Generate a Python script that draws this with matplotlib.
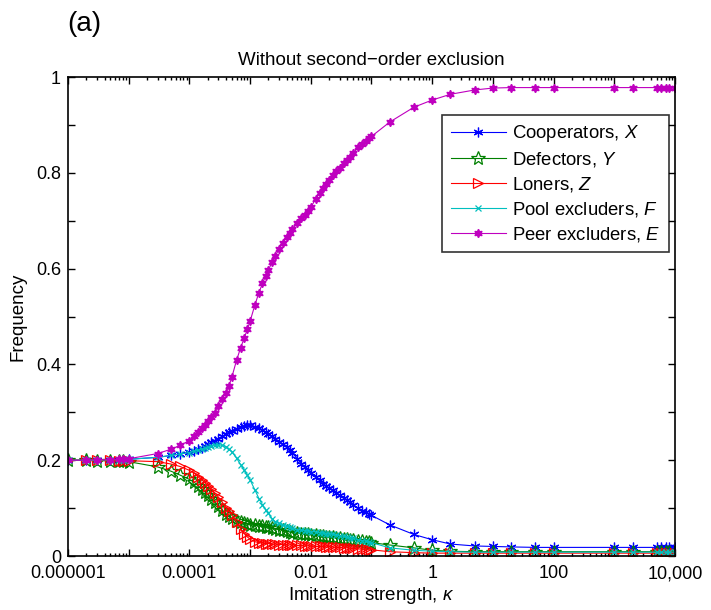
import numpy as np
import matplotlib
matplotlib.use("Agg")
import matplotlib.pyplot as plt
from matplotlib.ticker import LogLocator, NullFormatter, FixedLocator, FixedFormatter

plt.rcParams['font.family'] = ['Liberation Sans', 'DejaVu Sans']
plt.rcParams['mathtext.fontset'] = 'custom'
plt.rcParams['mathtext.rm'] = 'Liberation Sans'
plt.rcParams['mathtext.it'] = 'Liberation Sans:italic'

# imitation strength values used in the sweep
kappa = [1e-6, 2e-6, 3e-6, 5e-6, 7e-6, 8e-6, 1e-5, 3e-5, 5e-5, 7e-5,
         1e-4, 1.2e-4, 1.4e-4, 1.6e-4, 1.8e-4, 2e-4, 2.3e-4, 2.6e-4, 3e-4, 3.5e-4,
         4e-4, 4.5e-4, 5e-4, 6e-4, 7e-4, 8e-4, 9e-4,
         1e-3, 1.2e-3, 1.4e-3, 1.6e-3, 1.8e-3, 2e-3, 2.3e-3, 2.6e-3, 3e-3, 3.5e-3,
         4e-3, 4.5e-3, 5e-3, 6e-3, 7e-3, 8e-3, 9e-3,
         1e-2, 1.2e-2, 1.4e-2, 1.6e-2, 1.8e-2, 2e-2, 2.3e-2, 2.6e-2, 3e-2, 3.5e-2,
         4e-2, 4.5e-2, 5e-2, 6e-2, 7e-2, 8e-2, 9e-2,
         0.1, 0.2, 0.5, 1, 2, 5, 10, 20, 50, 100, 1000, 2000, 5000, 6000, 7000, 8000, 10000]

cooperators = [0.200, 0.200, 0.200, 0.201, 0.201, 0.201, 0.202, 0.206, 0.210, 0.213,
               0.217, 0.220, 0.223, 0.226, 0.229, 0.233, 0.237, 0.241, 0.245, 0.250,
               0.255, 0.259, 0.262, 0.266, 0.270, 0.272, 0.273,
               0.273, 0.270, 0.267, 0.263, 0.259, 0.255, 0.250, 0.245, 0.239, 0.233,
               0.227, 0.222, 0.215, 0.203, 0.193, 0.186, 0.180,
               0.174, 0.165, 0.158, 0.151, 0.146, 0.142, 0.137, 0.132, 0.127, 0.122,
               0.116, 0.112, 0.107, 0.100, 0.095, 0.091, 0.088,
               0.085, 0.065, 0.045, 0.034, 0.025, 0.021, 0.020, 0.019, 0.018, 0.018,
               0.018, 0.018, 0.018, 0.018, 0.018, 0.018, 0.018]

defectors = [0.200, 0.200, 0.199, 0.199, 0.198, 0.198, 0.197, 0.186, 0.177, 0.169,
             0.160, 0.154, 0.147, 0.140, 0.134, 0.128, 0.120, 0.113, 0.105, 0.096,
             0.088, 0.083, 0.079, 0.073, 0.070, 0.068, 0.066,
             0.065, 0.064, 0.063, 0.062, 0.061, 0.060, 0.058, 0.057, 0.055, 0.054,
             0.052, 0.050, 0.049, 0.048, 0.047, 0.046, 0.045,
             0.044, 0.043, 0.042, 0.041, 0.040, 0.040, 0.039, 0.038, 0.037, 0.036,
             0.035, 0.034, 0.033, 0.032, 0.031, 0.030, 0.029,
             0.028, 0.023, 0.017, 0.012, 0.010, 0.009, 0.009, 0.009, 0.009, 0.009,
             0.009, 0.009, 0.009, 0.009, 0.009, 0.009, 0.009]

loners = [0.200, 0.200, 0.200, 0.200, 0.199, 0.199, 0.199, 0.197, 0.192, 0.187,
          0.179, 0.173, 0.165, 0.159, 0.153, 0.147, 0.140, 0.132, 0.123, 0.112,
          0.101, 0.094, 0.086, 0.071, 0.057, 0.047, 0.040,
          0.035, 0.030, 0.028, 0.027, 0.026, 0.026, 0.025, 0.025, 0.024, 0.024,
          0.023, 0.023, 0.023, 0.022, 0.022, 0.021, 0.021,
          0.021, 0.020, 0.020, 0.020, 0.019, 0.019, 0.019, 0.018, 0.018, 0.017,
          0.017, 0.016, 0.016, 0.015, 0.014, 0.014, 0.013,
          0.013, 0.009, 0.007, 0.006, 0.006, 0.006, 0.006, 0.006, 0.006, 0.006,
          0.006, 0.006, 0.006, 0.006, 0.006, 0.006, 0.006]

pool_excluders = [0.200, 0.200, 0.200, 0.201, 0.201, 0.201, 0.202, 0.206, 0.210, 0.213,
                  0.216, 0.219, 0.221, 0.223, 0.225, 0.227, 0.229, 0.231, 0.232, 0.231,
                  0.228, 0.223, 0.218, 0.204, 0.191, 0.179, 0.169,
                  0.159, 0.138, 0.120, 0.107, 0.097, 0.089, 0.078, 0.072, 0.068, 0.065,
                  0.062, 0.060, 0.058, 0.055, 0.054, 0.053, 0.052,
                  0.051, 0.050, 0.049, 0.048, 0.047, 0.046, 0.045, 0.044, 0.042, 0.041,
                  0.039, 0.038, 0.037, 0.034, 0.032, 0.031, 0.029,
                  0.028, 0.017, 0.012, 0.010, 0.009, 0.008, 0.008, 0.008, 0.008, 0.008,
                  0.008, 0.008, 0.008, 0.008, 0.008, 0.008, 0.008]

peer_excluders = [0.200, 0.200, 0.201, 0.201, 0.202, 0.202, 0.203, 0.214, 0.223, 0.231,
                  0.241, 0.250, 0.259, 0.267, 0.274, 0.281, 0.290, 0.299, 0.314, 0.328,
                  0.341, 0.356, 0.373, 0.409, 0.435, 0.455, 0.473,
                  0.490, 0.524, 0.550, 0.569, 0.584, 0.597, 0.613, 0.626, 0.641, 0.654,
                  0.665, 0.674, 0.682, 0.696, 0.705, 0.713, 0.721,
                  0.728, 0.745, 0.758, 0.768, 0.776, 0.785, 0.795, 0.803, 0.811, 0.820,
                  0.827, 0.834, 0.841, 0.853, 0.861, 0.867, 0.872,
                  0.876, 0.906, 0.937, 0.952, 0.964, 0.973, 0.977, 0.978, 0.978, 0.978,
                  0.978, 0.978, 0.978, 0.978, 0.978, 0.978, 0.978]

labels = [r'Cooperators, $X$', r'Defectors, $Y$', r'Loners, $Z$',
          r'Pool excluders, $F$', r'Peer excluders, $E$']
xtick_labels = ['0.000001', '0.0001', '0.01', '1', '100', '10,000']

fig = plt.figure(figsize=(7.11, 6.10), dpi=100)
ax = fig.add_axes([0.0956, 0.0885, 0.8537, 0.7852])

ax.plot(kappa, cooperators, color=(0, 0, 1), lw=0.8, marker=(6, 2, 0), ms=7, mew=0.9,
        label=labels[0])
ax.plot(kappa, defectors, color=(0, 0.5, 0), lw=0.8, marker='*', ms=10, mew=0.9,
        mfc='none', label=labels[1])
ax.plot(kappa, loners, color=(1, 0, 0), lw=0.8, marker='>', ms=7, mew=0.9,
        mfc='none', label=labels[2])
ax.plot(kappa, pool_excluders, color=(0, 0.75, 0.75), lw=0.8, marker='x', ms=5, mew=0.9,
        label=labels[3])
ax.plot(kappa, peer_excluders, color=(0.75, 0, 0.75), lw=0.8, marker=(6, 1, 0), ms=6,
        mew=1.0, label=labels[4])

ax.set_xscale('log')
ax.set_xlim(1e-6, 1e4)
ax.set_ylim(0, 1)

ax.xaxis.set_major_locator(FixedLocator([10.0 ** e for e in range(-6, 5)]))
ax.xaxis.set_major_formatter(FixedFormatter(
    [xtick_labels[i // 2] if i % 2 == 0 else '' for i in range(11)]))
ax.xaxis.set_minor_locator(LogLocator(base=10, subs=np.arange(2, 10), numticks=100))
ax.xaxis.set_minor_formatter(NullFormatter())

yt = np.round(np.arange(0, 1.01, 0.1), 1)
ax.set_yticks(yt)
ax.set_yticklabels([f'{v:g}' if i % 2 == 0 else '' for i, v in enumerate(yt)])

ax.tick_params(which='both', direction='in', top=True, right=True, labelsize=13,
               width=1.0, color='black')
ax.tick_params(which='major', length=5, pad=5)
ax.tick_params(which='minor', length=2.5)
ax.tick_params(axis='x', which='major', pad=6.5)
for s in ax.spines.values():
    s.set_linewidth(1.2)

ax.set_xlabel(r'Imitation strength, $\kappa$', fontsize=13.5, labelpad=2)
ax.set_ylabel('Frequency', fontsize=13.5, labelpad=7)
ax.set_title('Without second\u2212order exclusion', fontsize=13.5, pad=9)
fig.text(0.094, 0.961, '(a)', fontsize=20, va='center', ha='left')

leg = ax.legend(loc='upper right', bbox_to_anchor=(669 / 711, 1 - 115 / 610),
                bbox_transform=fig.transFigure, fontsize=13.3, frameon=True,
                fancybox=False, edgecolor='black', handlelength=3.0,
                labelspacing=0.32, borderpad=0.45, handletextpad=0.35, borderaxespad=0)
leg.get_frame().set_linewidth(1.2)

fig.savefig('out.png', dpi=100)
